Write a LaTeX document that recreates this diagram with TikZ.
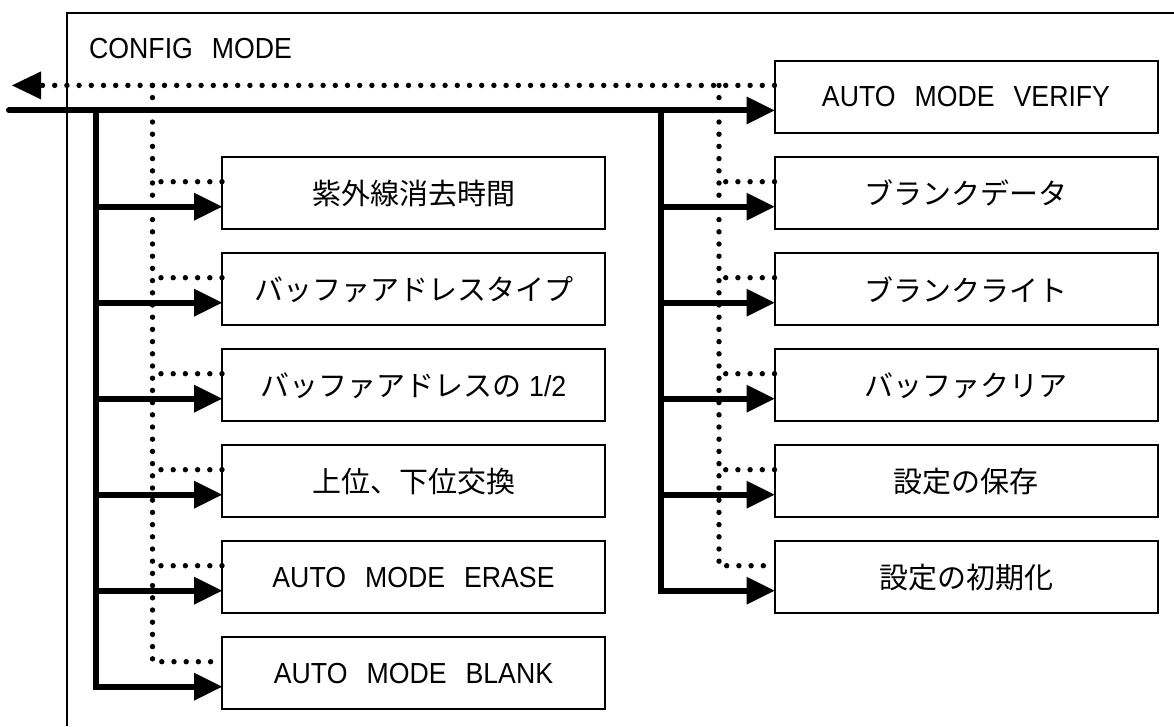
\documentclass[tikz,border=0pt]{standalone}
\usepackage{fontspec}
\setmainfont[FakeStretch=0.92]{Liberation Sans}
\newfontfamily\jpfont{Noto Sans CJK JP}
\usetikzlibrary{arrows.meta,calc}
% gap between words of the mode names
\newcommand\wgap{\hspace{19pt}}
\newcommand\jp[1]{{\jpfont\fontsize{29pt}{34pt}\selectfont #1}}

\begin{document}
\begin{tikzpicture}[x=1pt,y=-1pt,
  box/.style={draw,line width=2pt,minimum width=383pt,minimum height=72pt,
    inner sep=0pt,outer sep=0pt,font=\fontsize{29pt}{33pt}\selectfont},
  flow/.style={line width=6pt},
  flowtip/.style={flow,-{Triangle[length=28pt,width=28pt,line width=0pt]}},
  ret/.style={line width=5.4pt,line cap=round,dash pattern=on 0pt off 12.2pt},
  rettip/.style={ret,-{Triangle[length=29pt,width=28pt,line width=0pt]}},
  frame/.style={line width=2pt}]
\useasboundingbox (0,0) rectangle (1174,726);

% outer frame (open at the bottom and the right)
\coordinate (fbl) at (67,726);
\coordinate (ftl) at (67,13);
\coordinate (ftr) at (1174,13);
\draw[frame] (fbl) -- (ftl) -- (ftr);

\node[anchor=base west,inner sep=0pt,font=\fontsize{29pt}{33pt}\selectfont]
  (cfg) at (89,58) {CONFIG\wgap MODE};

% boxes
\node[box] (ver) at (966,97) {AUTO\wgap MODE\wgap VERIFY};
\node[box] (l1) at (413.5,193.3) {\jp{紫外線消去時間}};
\node[box] (l2) at (413.5,289.3) {\jp{バッファアドレスタイプ}};
\node[box] (l3) at (413.5,385.3) {\jp{バッファアドレスの} 1/2};
\node[box] (l4) at (413.5,481.3) {\jp{上位、下位交換}};
\node[box] (l5) at (413.5,577.3) {AUTO\wgap MODE\wgap ERASE};
\node[box] (l6) at (413.5,673.3) {AUTO\wgap MODE\wgap BLANK};
\node[box] (r1) at (966,193.3) {\jp{ブランクデータ}};
\node[box] (r2) at (966,289.3) {\jp{ブランクライト}};
\node[box] (r3) at (966,385.3) {\jp{バッファクリア}};
\node[box] (r4) at (966,481.3) {\jp{設定の保存}};
\node[box] (r5) at (966,577.3) {\jp{設定の初期化}};

% entry points on each box: solid (s) below centre, dotted (d) above
\foreach \n in {ver,l1,l2,l3,l4,l5,l6,r1,r2,r3,r4,r5}{
  \coordinate (\n-s) at ($(\n.west)+(0,13.4)$);
  \coordinate (\n-d) at ($(\n.west)+(0,-11.6)$);
}

% trunk junctions and free ends
\coordinate (inS) at (9,0 |- ver-s);
\coordinate (outD) at (12,0 |- ver-d);
\coordinate (lsTop) at (96,0 |- ver-s);
\coordinate (rsTop) at (661,0 |- ver-s);
\coordinate (ldTop) at (152.5,0 |- ver-d);
\coordinate (rdTop) at (719,0 |- ver-d);

% main solid line into AUTO MODE VERIFY
\draw[flowtip,line cap=round] (inS) -- (ver-s);
% dotted return line
\draw[rettip] (ver-d) -- (outD);

% left solid trunk and branches
\draw[flowtip] (lsTop) |- (l6-s);
\foreach \n in {l1,l2,l3,l4,l5}{
  \draw[flowtip] (lsTop |- \n-s) -- (\n-s);
}
% right solid trunk and branches
\draw[flowtip] (rsTop) |- (r5-s);
\foreach \n in {r1,r2,r3,r4}{
  \draw[flowtip] (rsTop |- \n-s) -- (\n-s);
}

% left dotted trunk and branches
\draw[ret] (ldTop) |- (l6-d);
\foreach \n in {l1,l2,l3,l4,l5}{
  \draw[ret] (\n-d) -- (ldTop |- \n-d);
}
% right dotted trunk and branches
\draw[ret] (rdTop) |- (r5-d);
\foreach \n in {r1,r2,r3,r4}{
  \draw[ret] (\n-d) -- (rdTop |- \n-d);
}
\end{tikzpicture}
\end{document}
